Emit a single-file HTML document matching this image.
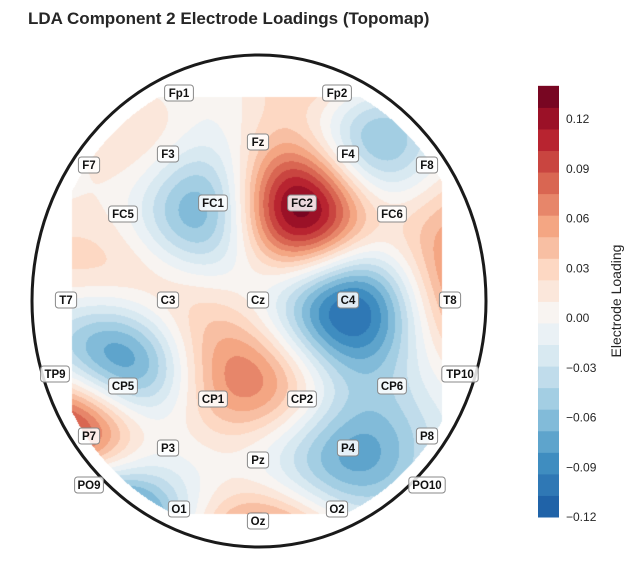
<!DOCTYPE html>
<html><head><meta charset="utf-8"><style>
body{margin:0;background:#fff;}
#wrap{position:relative;width:634px;height:581px;overflow:hidden;font-family:"Liberation Sans",sans-serif;}
canvas,svg{position:absolute;left:0;top:0;}
</style></head><body>
<div id="wrap">
<canvas id="cv" width="634" height="581"></canvas>
<svg id="sv" width="634" height="581" xmlns="http://www.w3.org/2000/svg">
<text x="28" y="24" font-size="17" font-weight="bold" fill="#262626">LDA Component 2 Electrode Loadings (Topomap)</text>
<ellipse cx="259" cy="301" rx="227" ry="246" fill="none" stroke="#1a1a1a" stroke-width="3"/>
<g id="labels"></g>
<g id="cbar"></g>
<text transform="translate(621,301) rotate(-90)" text-anchor="middle" font-size="14" fill="#262626">Electrode Loading</text>
</svg>
</div>
<script>
const names=["Fp1","Fp2","F7","F3","Fz","F4","F8","FC5","FC1","FC2","FC6","T7","C3","Cz","C4","T8","TP9","CP5","CP1","CP2","CP6","TP10","P7","P3","Pz","P4","P8","PO9","O1","Oz","O2","PO10"];
const values=[0.0,0.02,0.01,0.0,0.03,-0.03,-0.01,0.0,-0.06,0.15,0.02,0.0,0.02,0.0,-0.11,0.06,0.0,-0.06,0.05,0.02,-0.04,0.01,0.11,0.0,-0.01,-0.08,-0.03,-0.07,-0.03,0.07,-0.01,-0.02];
const tickVals=[-0.12,-0.09,-0.06,-0.03,0.00,0.03,0.06,0.09,0.12];
const tickLabels=["\u22120.12","\u22120.09","\u22120.06","\u22120.03","0.00","0.03","0.06","0.09","0.12"];
const vmin=-0.12, vmax=0.14, nLevels=20;
const pos=[[179,93],[337,93],[89,165],[168,154],[258,142],[348,154],[427,165],[123,214],[213,203],[302,203],[392,214],[66,300],[168,300],[258,300],[348,300],[450,300],[55,374],[123,386],[213,399],[302,399],[392,386],[460,374],[89,436],[168,448],[258,460],[348,448],[427,436],[89,485],[179,509],[258,521],[337,509],[427,485]];
const stops=[[5,48,97],[33,102,172],[67,147,195],[146,197,222],[209,229,240],[247,247,247],[253,219,199],[244,165,130],[214,96,77],[178,24,43],[103,0,31]];
function cmap(v){let t=(v+0.14)/0.28;t=Math.max(0,Math.min(1,t))*10;const i=Math.min(9,Math.floor(t)),f=t-i;const a=stops[i],b=stops[i+1];return[0,1,2].map(k=>Math.round(a[k]+(b[k]-a[k])*f));}
const step=(vmax-vmin)/nLevels;
function levelColor(v){let i=Math.floor((v-vmin)/step);i=Math.max(0,Math.min(nLevels-1,i));return cmap(vmin+(i+0.5)*step);}
function yScale(v){return 517-(v-vmin)/(0.24)*398;}
const N=pos.length,sig=62;
function ker(d2){return Math.exp(-d2/(2*sig*sig));}
const A=[];for(let i=0;i<N;i++){A.push([]);for(let j=0;j<N;j++){const dx=pos[i][0]-pos[j][0],dy=pos[i][1]-pos[j][1];A[i].push(ker(dx*dx+dy*dy)+(i===j?0.05:0));}A[i].push(values[i]);}
for(let c=0;c<N;c++){let p=c;for(let r=c+1;r<N;r++)if(Math.abs(A[r][c])>Math.abs(A[p][c]))p=r;[A[c],A[p]]=[A[p],A[c]];for(let r=0;r<N;r++){if(r===c)continue;const f=A[r][c]/A[c][c];for(let k=c;k<=N;k++)A[r][k]-=f*A[c][k];}}
const wts=A.map((row,i)=>row[N]/row[i]);
const cv=document.getElementById('cv'),ctx=cv.getContext('2d');
const cx=259,cy=301,rx=213,ry=232;
for(let y=97;y<514;y++){for(let x=72;x<442;x++){
 const dx=(x-cx)/rx,dy=(y-cy)/ry;if(dx*dx+dy*dy>1)continue;
 let v=0;for(let i=0;i<N;i++){const ex=x-pos[i][0],ey=y-pos[i][1];v+=wts[i]*ker(ex*ex+ey*ey);}
 const c=levelColor(v);
 ctx.fillStyle=`rgb(${c[0]},${c[1]},${c[2]})`;ctx.fillRect(x,y,1,1);
}}
const NS="http://www.w3.org/2000/svg";
const lg=document.getElementById('labels');
names.forEach((n,i)=>{
 const w=n.length*7.6+6;
 const r=document.createElementNS(NS,'rect');
 r.setAttribute('x',pos[i][0]-w/2);r.setAttribute('y',pos[i][1]-8);r.setAttribute('width',w);r.setAttribute('height',16);r.setAttribute('rx',3);
 r.setAttribute('fill','rgba(255,255,255,0.85)');r.setAttribute('stroke','#888');r.setAttribute('stroke-width','1');
 
 
 lg.appendChild(r);
 const t=document.createElementNS(NS,'text');
 t.setAttribute('x',pos[i][0]);t.setAttribute('y',pos[i][1]+4);t.setAttribute('text-anchor','middle');t.setAttribute('font-size','11.5');t.setAttribute('font-weight','bold');t.setAttribute('fill','#111');
 t.textContent=n;
 
 
 lg.appendChild(t);
});
const cb=document.getElementById('cbar');
for(let i=0;i<nLevels;i++){
 const a=vmin+i*step,b=a+step,c=cmap(a+step/2);
 const r=document.createElementNS(NS,'rect');
 r.setAttribute('x',538);r.setAttribute('y',yScale(b));r.setAttribute('width',21);r.setAttribute('height',yScale(a)-yScale(b)+0.5);
 r.setAttribute('fill',`rgb(${c[0]},${c[1]},${c[2]})`);
 
 
 cb.appendChild(r);
}
tickVals.forEach((v,i)=>{
 const t=document.createElementNS(NS,'text');
 t.setAttribute('x',566);t.setAttribute('y',yScale(v)+4);t.setAttribute('font-size','12');t.setAttribute('fill','#262626');
 t.textContent=tickLabels[i];
 
 
 cb.appendChild(t);
});
</script>
</body></html>
